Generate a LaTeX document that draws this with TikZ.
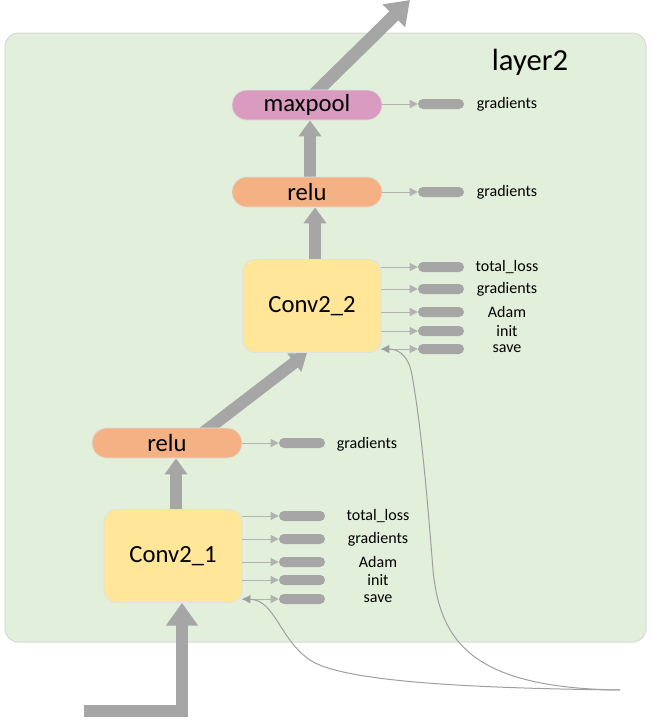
\documentclass[tikz,border=0pt]{standalone}
\usepackage{fontspec}
\setmainfont{Carlito}
\usetikzlibrary{arrows.meta,positioning,calc,backgrounds}
\pgfdeclarelayer{back}
\pgfsetlayers{back,background,main}
\definecolor{panelGreen}{HTML}{E2EFDA}
\definecolor{convYellow}{HTML}{FFE699}
\definecolor{reluOrange}{HTML}{F4B183}
\definecolor{poolPink}{HTML}{D99BBF}
\definecolor{flowGray}{HTML}{A6A6A6}
\tikzset{
    panel/.style={
    ,   fill=panelGreen
    ,   draw=black!15
    ,   line width=0.75pt
    ,   rounded corners=10pt
    },
    opNode/.style={ % pill shaped op, #1 = fill colour
    ,   rectangle
    ,   rounded corners=11pt
    ,   minimum width=112.5pt
    ,   minimum height=22.5pt
    ,   inner sep=0pt
    ,   fill=#1
    ,   draw=black!12
    ,   line width=0.6pt
    ,   font={\fontsize{18.5pt}{21}\selectfont}
    },
    convNode/.style={
    ,   rectangle
    ,   rounded corners=9pt
    ,   minimum width=103.5pt
    ,   minimum height=69.75pt
    ,   inner sep=0pt
    ,   fill=convYellow
    ,   draw=black!12
    ,   line width=0.6pt
    ,   font={\fontsize{18.5pt}{21}\selectfont}
    },
    pill/.style={
    ,   rectangle
    ,   rounded corners=3.75pt
    ,   minimum width=34.5pt
    ,   minimum height=7.5pt
    ,   inner sep=0pt
    ,   fill=flowGray
    },
    rowLabel/.style={
    ,   inner sep=0pt
    ,   font={\fontsize{12pt}{14}\selectfont}
    },
    flow/.style={
    ,   draw=flowGray
    ,   line width=9pt
    ,   -{Triangle[width=16.5pt,length=12pt]}
    },
    bigFlow/.style={
    ,   draw=flowGray
    ,   line width=9.5pt
    ,   -{Triangle[width=23pt,length=17pt]}
    },
    outArrow/.style={
    ,   draw=gray!60
    ,   line width=0.75pt
    ,   -{Triangle[width=6pt,length=6pt]}
    },
    ckptLine/.style={
    ,   draw=gray!75
    ,   line width=0.75pt
    ,   -{Triangle[width=6pt,length=6pt]}
    },
}

\begin{document}
\begin{tikzpicture}[x=0.75pt, y=-0.75pt]
\useasboundingbox (0,0) rectangle (652,725);
\begin{pgfonlayer}{back}
\draw[panel] (5,33) rectangle (646,642);
\end{pgfonlayer}
\node[anchor=base, inner sep=0pt, font={\fontsize{23pt}{26}\selectfont}] (title) at (530,70) {layer2};

% ops of the layer
\node[opNode=poolPink] (maxpool) at (307,105) {maxpool};
\node[opNode=reluOrange] (relu2) at (307,192) {relu};
\node[convNode] (conv2) at (312,306) {Conv2\_2};
\node[opNode=reluOrange] (relu1) at (167,443) {relu};
\node[convNode] (conv1) at (173,556) {Conv2\_1};

% data flow
\coordinate (in) at (84,711);
\coordinate (inBend) at (182,711);
\coordinate (out) at (410,0);
\begin{scope}[on background layer]
\draw[bigFlow] (in) -- (inBend) -- (inBend |- conv1.south);
\draw[flow] ([xshift=2.25pt]conv1.center) -- ([xshift=2.25pt]conv1.north |- relu1.south);
\draw[flow] ([xshift=17pt]relu1.center) -- ([xshift=-3.75pt]conv2.south);
\draw[flow] ([xshift=2.25pt]conv2.center) -- ([xshift=2.25pt]conv2.north |- relu2.south);
\draw[flow] ([xshift=2.25pt]relu2.center) -- ([xshift=2.25pt]maxpool.south);
\draw[bigFlow] ([xshift=-3pt]maxpool.center) -- (out);
\end{scope}

% side outputs
\node[pill] (pm) at (441,104) {};
\draw[outArrow] (maxpool.east |- pm) -- (pm);
\node[rowLabel] (lm) at (507,104) {gradients};
\node[pill] (pr2) at (441,192) {};
\draw[outArrow] (relu2.east |- pr2) -- (pr2);
\node[rowLabel] (lr2) at (507,192) {gradients};
\node[pill] (pr1) at (302,443) {};
\draw[outArrow] (relu1.east |- pr1) -- (pr1);
\node[rowLabel] (lr1) at (367,444) {gradients};

\foreach \y/\t in {267/total\_loss,289/gradients,312/Adam,331/init,349/save}{
  \node[pill] (pb\y) at (441,\y) {};
  \draw[outArrow] (conv2.east |- pb\y) -- (pb\y);
  \node[rowLabel] (lb\y) at (507,\y) {\t};
}
\foreach \y/\t in {516/total\_loss,539/gradients,562/Adam,580/init,599/save}{
  \node[pill] (pa\y) at (302,\y) {};
  \draw[outArrow] (conv1.east |- pa\y) -- (pa\y);
  \node[rowLabel] (la\y) at (378,\y) {\t};
}

% restore path back into both convs
\coordinate (ckpt) at (620,690);
\draw[ckptLine] (ckpt) .. controls (470,688) and (440,640) .. (433,570)
  .. controls (426,480) and (420,420) .. (412,375)
  .. controls (408,352) and (395,349) .. (conv2.east |- pb349);
\draw[ckptLine] (ckpt) .. controls (450,688) and (340,680) .. (310,660)
  .. controls (280,640) and (275,600) .. (conv1.east |- pa599);
\end{tikzpicture}
\end{document}
